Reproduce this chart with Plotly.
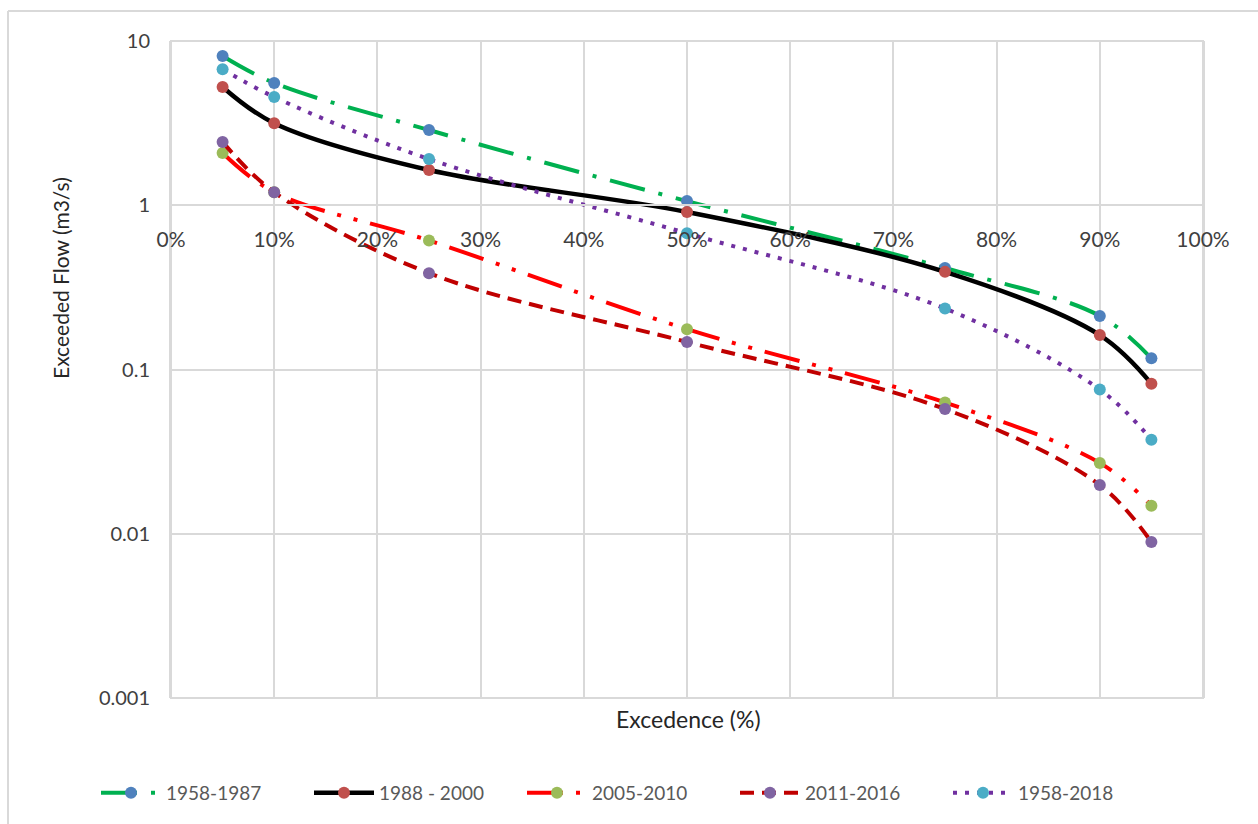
import plotly.graph_objects as go

# ---- data ----
exceedance = [5, 10, 25, 50, 75, 90, 95]
series_names = ["1958-1987", "1988 - 2000", "2005-2010", "2011-2016", "1958-2018"]
flow_1958_1987 = [8.1, 5.55, 2.87, 1.06, 0.415, 0.212, 0.117]
flow_1988_2000 = [5.25, 3.16, 1.64, 0.91, 0.393, 0.162, 0.082]
flow_2005_2010 = [2.08, 1.2, 0.61, 0.176, 0.063, 0.027, 0.0148]
flow_2011_2016 = [2.43, 1.2, 0.386, 0.147, 0.0574, 0.0198, 0.0089]
flow_1958_2018 = [6.74, 4.56, 1.91, 0.675, 0.235, 0.0755, 0.0374]
x_ticks = list(range(0, 101, 10))
x_tick_labels = [f"{t}%" for t in x_ticks]
y_ticks = [10, 1, 0.1, 0.01, 0.001]
y_tick_labels = ["10", "1", "0.1", "0.01", "0.001"]

all_flows = [flow_1958_1987, flow_1988_2000, flow_2005_2010, flow_2011_2016, flow_1958_2018]
line_colors = ["#00B050", "#000000", "#FF0000", "#C00000", "#7030A0"]
marker_colors = ["#4F81BD", "#C0504D", "#9BBB59", "#8064A2", "#4BACC6"]
dashes = ["36px,14px,4px,14px", "solid", "36px,13px,4px,13px,4px,13px", "14px,8px", "4px,8px"]
widths = [4, 4.5, 4, 4, 4]

W, H = 1258, 824
L, R, T, B = 171, 1203, 41, 698
pw, ph = R - L, B - T

def px_x(px):
    return (px - L) / pw

def px_y(py):
    return (B - py) / ph

FONT = "Lato"
fig = go.Figure()
for name, ys, lc, mc, d, w in zip(series_names, all_flows, line_colors, marker_colors, dashes, widths):
    fig.add_trace(go.Scatter(
        x=exceedance, y=ys, name=name, mode="lines+markers",
        line=dict(color=lc, width=w, dash=d, shape="spline", smoothing=1.0),
        marker=dict(color=mc, size=12, line=dict(width=0)),
    ))

fig.update_layout(
    width=W, height=H,
    margin=dict(l=L, r=W - R, t=T, b=H - B, autoexpand=False),
    paper_bgcolor="white", plot_bgcolor="white",
    font=dict(family=FONT, size=19, color="#404040"),
    showlegend=True,
    legend=dict(orientation="h", x=px_x(96), xanchor="left", y=px_y(793), yanchor="middle",
                font=dict(size=19, color="#595959"), itemwidth=60, traceorder="normal",
                entrywidth=138, entrywidthmode="pixels"),
    xaxis=dict(range=[0, 100], tickvals=x_ticks, ticktext=x_tick_labels,
               showgrid=True, gridcolor="#D9D9D9", gridwidth=2,
               showline=True, linecolor="#D9D9D9", linewidth=2,
               anchor="free", position=0.75, ticks="", zeroline=False,
               ticklabelstandoff=16,
               tickfont=dict(size=21, color="#404040")),
    yaxis=dict(type="log", range=[-3, 1], tickvals=y_ticks, ticktext=y_tick_labels,
               showgrid=True, gridcolor="#D9D9D9", gridwidth=2,
               showline=True, linecolor="#D9D9D9", linewidth=2, mirror=True,
               ticks="", ticklen=0, ticklabelstandoff=15,
               tickfont=dict(size=20, color="#404040")),
    shapes=[
        dict(type="rect", xref="paper", yref="paper", x0=0, x1=1, y0=0, y1=1,
             line=dict(color="#D9D9D9", width=2), layer="below"),
        dict(type="line", xref="paper", yref="paper", x0=px_x(8), x1=px_x(1260), y0=px_y(11), y1=px_y(11),
             line=dict(color="#D9D9D9", width=2)),
        dict(type="line", xref="paper", yref="paper", x0=px_x(8), x1=px_x(8), y0=px_y(11), y1=px_y(830),
             line=dict(color="#D9D9D9", width=2)),
    ],
    annotations=[
        dict(text="Excedence (%)", xref="paper", yref="paper", x=px_x(688), y=px_y(719),
             xanchor="center", yanchor="middle", showarrow=False,
             font=dict(size=23, color="#262626")),
        dict(text="Exceeded Flow (m3/s)", xref="paper", yref="paper", x=px_x(60), y=px_y(278),
             xanchor="center", yanchor="middle", textangle=-90, showarrow=False,
             font=dict(size=21, color="#262626")),
    ],
)

fig.write_html("out.html")
